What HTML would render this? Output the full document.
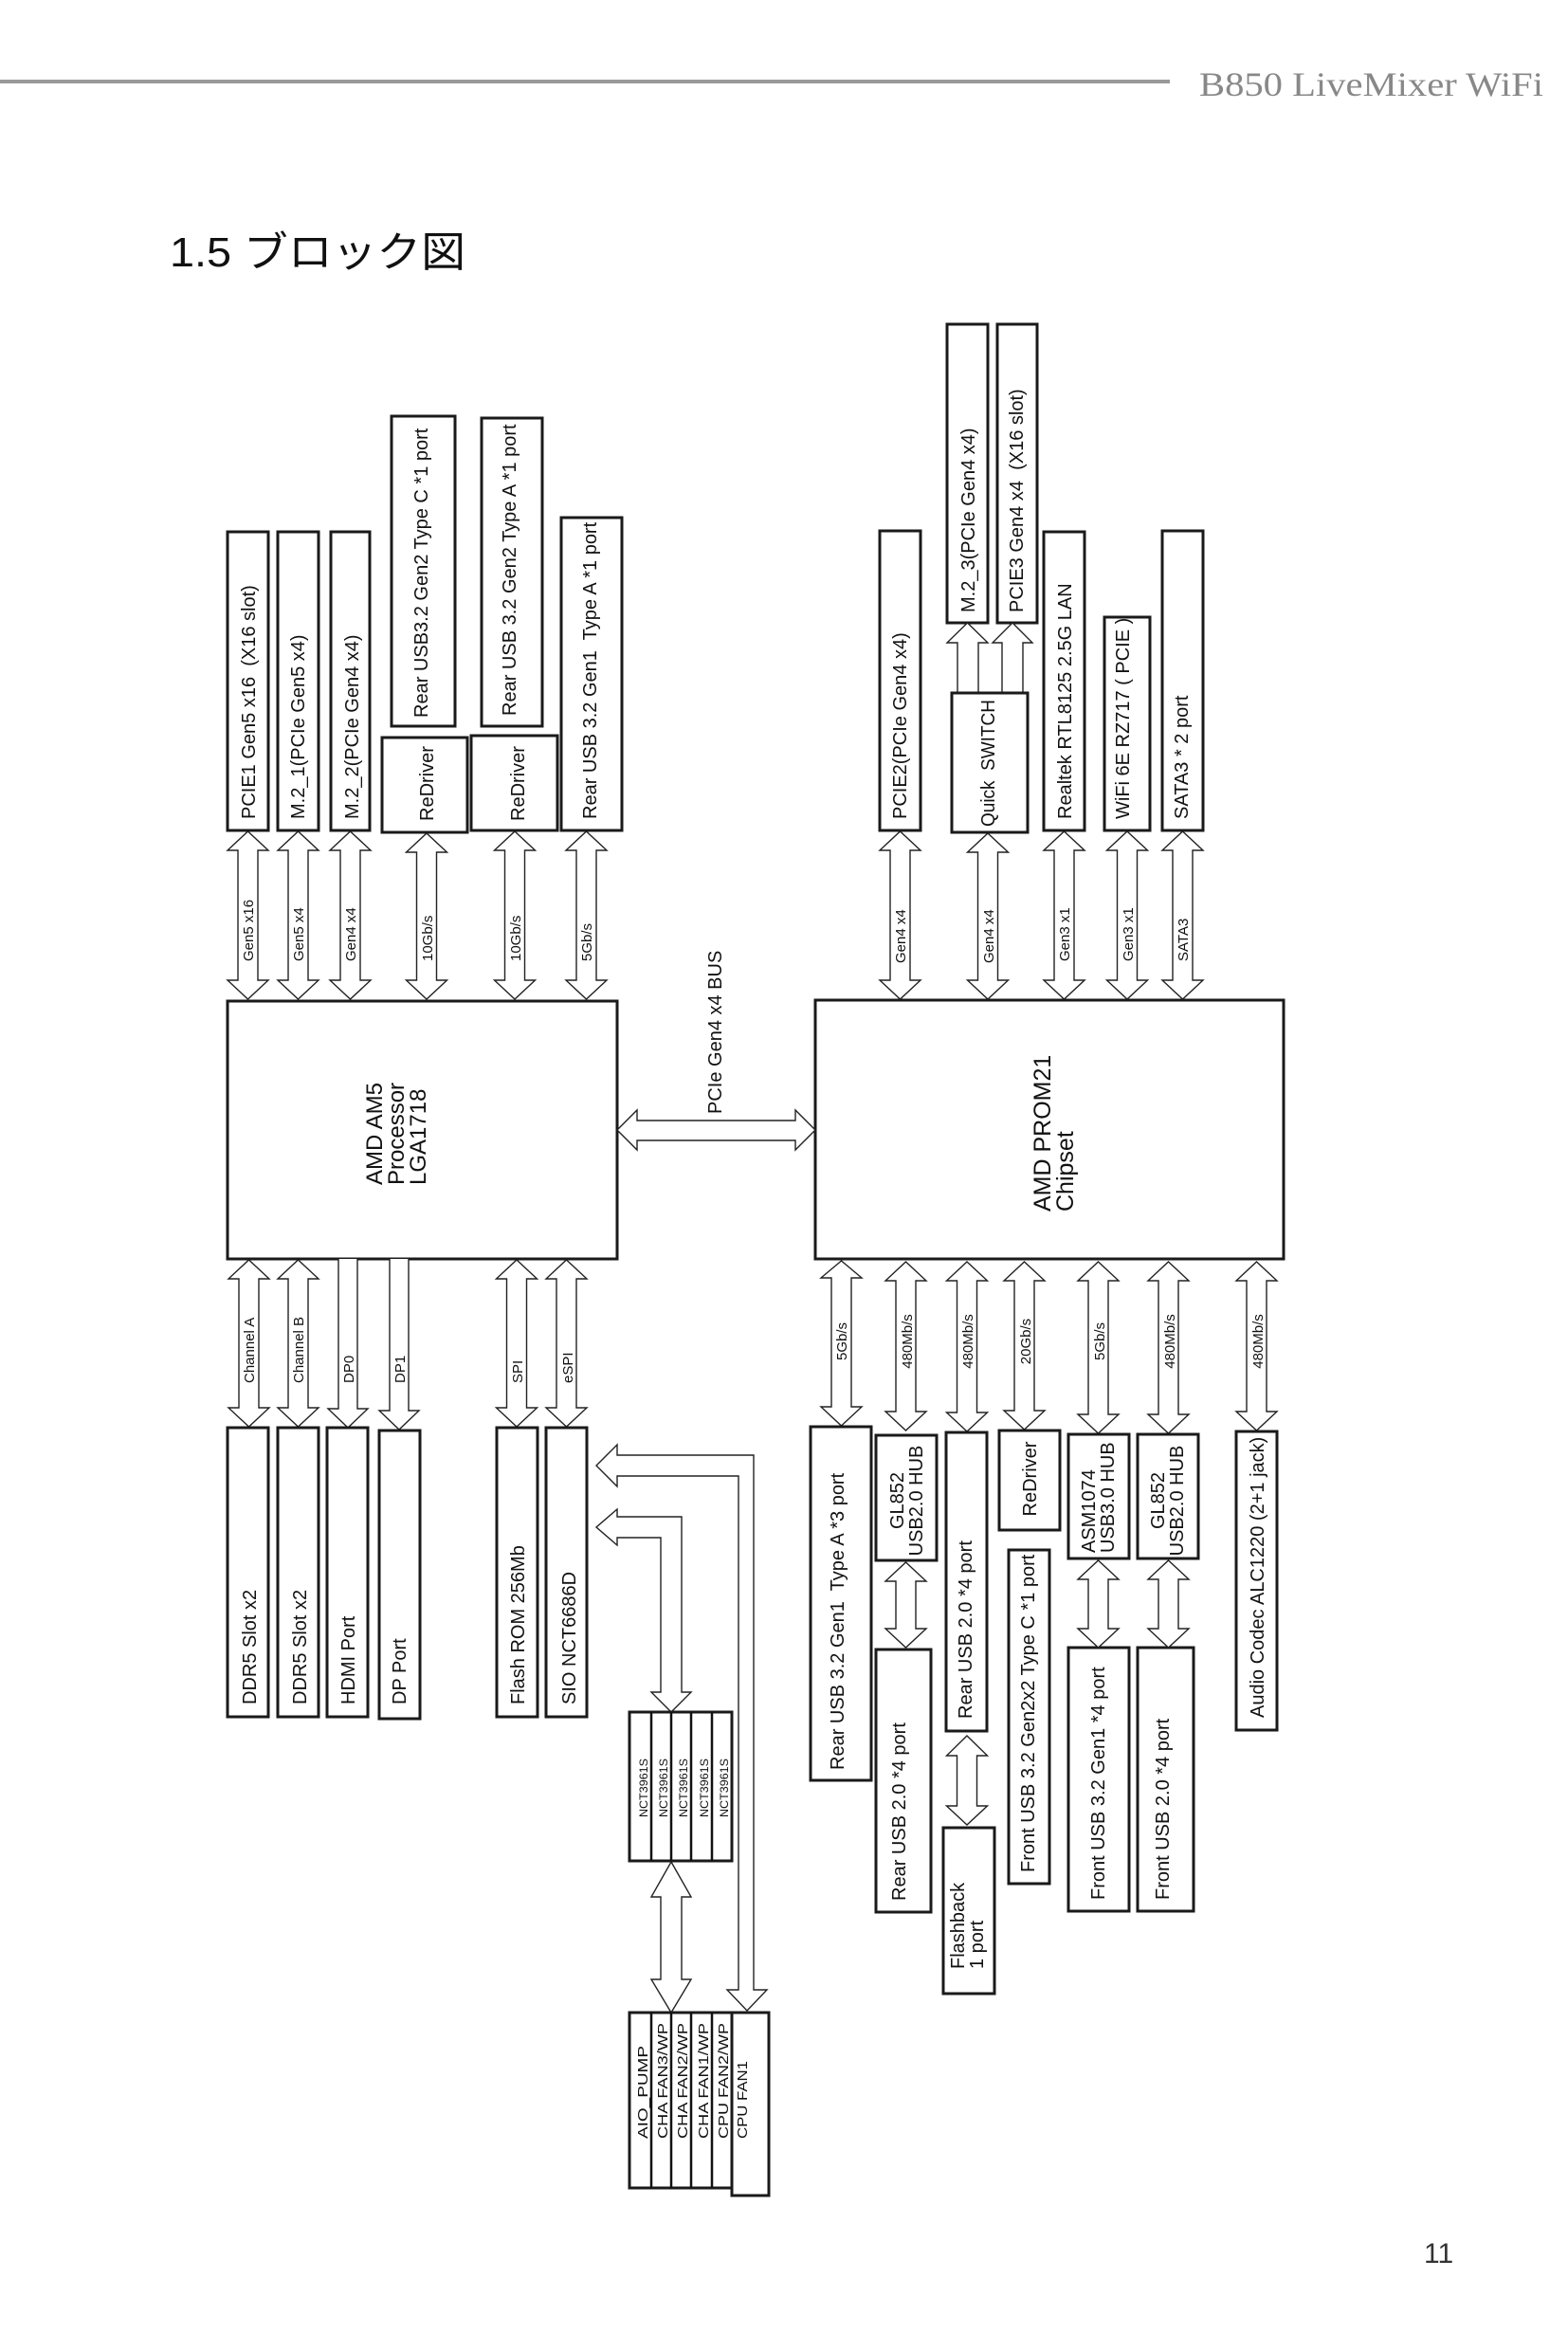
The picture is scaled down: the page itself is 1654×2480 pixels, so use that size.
<!DOCTYPE html>
<html><head><meta charset="utf-8"><style>
html,body{margin:0;padding:0;background:#fff}
svg{display:block}
.b{fill:#fff;stroke:#1a1a1a;stroke-width:3}
.a{fill:#fff;stroke:#222;stroke-width:1.4}
text{font-family:"Liberation Sans",Arial,sans-serif;fill:#111}
.t{font-size:20px}
.l{font-size:15px}
.f{font-size:15px}
.n{font-size:12px}
</style></head><body>
<svg width="1654" height="2480" viewBox="0 0 1654 2480" xmlns="http://www.w3.org/2000/svg">
<!-- header -->
<rect x="0" y="84" width="1234" height="4" fill="#999"/>
<text x="1265" y="101" style="font-family:'Liberation Serif',serif;font-size:36px;fill:#888" textLength="363" lengthAdjust="spacingAndGlyphs">B850 LiveMixer WiFi</text>
<text x="179" y="281" style="font-family:'Liberation Sans','Noto Sans CJK JP',sans-serif;font-size:44px;fill:#111" textLength="312" lengthAdjust="spacingAndGlyphs">1.5 ブロック図</text>
<text x="1502" y="2387" style="font-family:'Liberation Sans',sans-serif;font-size:30px;fill:#333">11</text>

<!-- main chips -->
<rect class="b" x="240" y="1056" width="411" height="272"/>
<rect class="b" x="860" y="1055" width="494" height="273"/>
<text class="t" style="font-size:24px" transform="translate(403,1250) rotate(-90)">AMD AM5</text>
<text class="t" style="font-size:24px" transform="translate(426,1250) rotate(-90)">Processor</text>
<text class="t" style="font-size:24px" transform="translate(449,1250) rotate(-90)">LGA1718</text>
<text class="t" style="font-size:25px" transform="translate(1108,1278) rotate(-90)">AMD PROM21</text>
<text class="t" style="font-size:25px" transform="translate(1132,1278) rotate(-90)">Chipset</text>

<!-- bus -->
<path class="a" d="M651 1192 L672 1171 V1182 H839 V1171 L860 1192 L839 1213 V1203 H672 V1213 Z"/>
<text class="t" transform="translate(761,1175) rotate(-90)">PCIe Gen4 x4 BUS</text>

<!-- top boxes CPU side -->
<rect class="b" x="240" y="561" width="43" height="315"/>
<rect class="b" x="293" y="561" width="43" height="315"/>
<rect class="b" x="349" y="561" width="41" height="315"/>
<rect class="b" x="413" y="439" width="67" height="327"/>
<rect class="b" x="403" y="778" width="90" height="100"/>
<rect class="b" x="508" y="441" width="64" height="325"/>
<rect class="b" x="497" y="776" width="91" height="100"/>
<rect class="b" x="592" y="546" width="64" height="330"/>
<text class="t" transform="translate(269,864) rotate(-90)" xml:space="preserve">PCIE1 Gen5 x16  (X16 slot)</text>
<text class="t" transform="translate(321,864) rotate(-90)">M.2_1(PCIe Gen5 x4)</text>
<text class="t" transform="translate(378,864) rotate(-90)">M.2_2(PCIe Gen4 x4)</text>
<text class="t" transform="translate(451,757) rotate(-90)">Rear USB3.2 Gen2 Type C *1 port</text>
<text class="t" transform="translate(457,866) rotate(-90)">ReDriver</text>
<text class="t" transform="translate(544,755) rotate(-90)">Rear USB 3.2 Gen2 Type A *1 port</text>
<text class="t" transform="translate(553,866) rotate(-90)">ReDriver</text>
<text class="t" transform="translate(629,864) rotate(-90)" xml:space="preserve">Rear USB 3.2 Gen1  Type A *1 port</text>

<!-- top boxes chipset side -->
<rect class="b" x="928" y="560" width="43" height="316"/>
<rect class="b" x="999" y="342" width="43" height="315"/>
<rect class="b" x="1052" y="342" width="42" height="315"/>
<polyline class="a" points="1010,731 1010,678 999,678 1020.5,657 1042,678 1032,678 1032,731"/>
<polyline class="a" points="1057,731 1057,678 1047,678 1068,657 1089,678 1079,678 1079,731"/>
<rect class="b" x="1004" y="731" width="80" height="147"/>
<rect class="b" x="1101" y="561" width="43" height="315"/>
<rect class="b" x="1165" y="651" width="48" height="225"/>
<rect class="b" x="1226" y="560" width="43" height="316"/>
<text class="t" transform="translate(956,864) rotate(-90)">PCIE2(PCIe Gen4 x4)</text>
<text class="t" transform="translate(1028,646) rotate(-90)">M.2_3(PCIe Gen4 x4)</text>
<text class="t" transform="translate(1079,646) rotate(-90)" xml:space="preserve">PCIE3 Gen4 x4  (X16 slot)</text>
<text class="t" transform="translate(1049,872) rotate(-90)" xml:space="preserve" textLength="134" lengthAdjust="spacingAndGlyphs">Quick  SWITCH</text>
<text class="t" transform="translate(1130,864) rotate(-90)">Realtek RTL8125 2.5G LAN</text>
<text class="t" transform="translate(1191,864) rotate(-90)">WiFi 6E RZ717 ( PCIE )</text>
<text class="t" transform="translate(1253,864) rotate(-90)">SATA3 * 2 port</text>

<!-- top arrows -->
<path class="a" d="M261.5 877 l21.5 20 h-11 V1034 h11 l-21.5 20 l-21.5 -20 h11 V897 h-11 z"/>
<path class="a" d="M314.5 877 l21.5 20 h-11 V1034 h11 l-21.5 20 l-21.5 -20 h11 V897 h-11 z"/>
<path class="a" d="M369.5 877 l21.5 20 h-11 V1034 h11 l-21.5 20 l-21.5 -20 h11 V897 h-11 z"/>
<path class="a" d="M450 879 l21.5 20 h-11 V1034 h11 l-21.5 20 l-21.5 -20 h11 V899 h-11 z"/>
<path class="a" d="M543 877 l21.5 20 h-11 V1034 h11 l-21.5 20 l-21.5 -20 h11 V897 h-11 z"/>
<path class="a" d="M618.5 877 l21.5 20 h-11 V1034 h11 l-21.5 20 l-21.5 -20 h11 V897 h-11 z"/>
<path class="a" d="M949.5 877 l21.5 20 h-11 V1034 h11 l-21.5 20 l-21.5 -20 h11 V897 h-11 z"/>
<path class="a" d="M1042 879 l21.5 20 h-11 V1034 h11 l-21.5 20 l-21.5 -20 h11 V899 h-11 z"/>
<path class="a" d="M1122.5 877 l21.5 20 h-11 V1034 h11 l-21.5 20 l-21.5 -20 h11 V897 h-11 z"/>
<path class="a" d="M1189 877 l21.5 20 h-11 V1034 h11 l-21.5 20 l-21.5 -20 h11 V897 h-11 z"/>
<path class="a" d="M1247.5 877 l21.5 20 h-11 V1034 h11 l-21.5 20 l-21.5 -20 h11 V897 h-11 z"/>
<text class="l" transform="translate(267,1014) rotate(-90)">Gen5 x16</text>
<text class="l" transform="translate(320,1014) rotate(-90)">Gen5 x4</text>
<text class="l" transform="translate(375,1014) rotate(-90)">Gen4 x4</text>
<text class="l" transform="translate(456,1014) rotate(-90)">10Gb/s</text>
<text class="l" transform="translate(549,1014) rotate(-90)">10Gb/s</text>
<text class="l" transform="translate(624,1014) rotate(-90)">5Gb/s</text>
<text class="l" transform="translate(955,1016) rotate(-90)">Gen4 x4</text>
<text class="l" transform="translate(1048,1016) rotate(-90)">Gen4 x4</text>
<text class="l" transform="translate(1128,1014) rotate(-90)">Gen3 x1</text>
<text class="l" transform="translate(1195,1014) rotate(-90)">Gen3 x1</text>
<text class="l" transform="translate(1253,1014) rotate(-90)">SATA3</text>

<!-- bottom CPU side -->
<path class="a" d="M262.5 1329 l21.5 20 h-11 V1485 h11 l-21.5 20 l-21.5 -20 h11 V1349 h-11 z"/>
<path class="a" d="M314.5 1329 l21.5 20 h-11 V1485 h11 l-21.5 20 l-21.5 -20 h11 V1349 h-11 z"/>
<path class="a" d="M357 1328 V1486 h-11 l21 20 l21 -20 h-11 V1328"/>
<path class="a" d="M411 1328 V1488 h-11 l21 20 l21 -20 h-11 V1328"/>
<path class="a" d="M545 1329 l21.5 20 h-11 V1485 h11 l-21.5 20 l-21.5 -20 h11 V1349 h-11 z"/>
<path class="a" d="M597.5 1329 l21.5 20 h-11 V1485 h11 l-21.5 20 l-21.5 -20 h11 V1349 h-11 z"/>
<text class="l" transform="translate(268,1459) rotate(-90)">Channel A</text>
<text class="l" transform="translate(320,1459) rotate(-90)">Channel B</text>
<text class="l" transform="translate(373,1459) rotate(-90)">DP0</text>
<text class="l" transform="translate(427,1459) rotate(-90)">DP1</text>
<text class="l" transform="translate(551,1459) rotate(-90)">SPI</text>
<text class="l" transform="translate(604,1459) rotate(-90)">eSPI</text>
<rect class="b" x="240" y="1506" width="43" height="305"/>
<rect class="b" x="293" y="1506" width="43" height="305"/>
<rect class="b" x="345" y="1506" width="43" height="305"/>
<rect class="b" x="400" y="1509" width="43" height="304"/>
<rect class="b" x="524" y="1506" width="43" height="305"/>
<rect class="b" x="576" y="1506" width="43" height="305"/>
<text class="t" transform="translate(270,1798) rotate(-90)">DDR5 Slot x2</text>
<text class="t" transform="translate(323,1798) rotate(-90)">DDR5 Slot x2</text>
<text class="t" transform="translate(374,1798) rotate(-90)">HDMI Port</text>
<text class="t" transform="translate(428,1798) rotate(-90)">DP Port</text>
<text class="t" transform="translate(553,1798) rotate(-90)">Flash ROM 256Mb</text>
<text class="t" transform="translate(607,1798) rotate(-90)">SIO NCT6686D</text>

<!-- fan section -->
<path class="a" d="M795 2099 H809 L788 2121 L767 2099 H779 V1557 H651 V1568 L629 1546 L651 1524 V1535 H795 Z"/>
<path class="a" d="M719 1785 H729 L708 1806 L687 1785 H697 V1622 H651 V1630 L629 1611 L651 1592 V1600 H719 Z"/>
<rect class="b" x="664" y="1806" width="108" height="157"/>
<line x1="687" y1="1806" x2="687" y2="1963" stroke="#111" stroke-width="2.5"/>
<line x1="708" y1="1806" x2="708" y2="1963" stroke="#111" stroke-width="2.5"/>
<line x1="729" y1="1806" x2="729" y2="1963" stroke="#111" stroke-width="2.5"/>
<line x1="751" y1="1806" x2="751" y2="1963" stroke="#111" stroke-width="2.5"/>
<text class="n" transform="translate(683,1917) rotate(-90)" textLength="62" lengthAdjust="spacingAndGlyphs">NCT3961S</text>
<text class="n" transform="translate(704,1917) rotate(-90)" textLength="62" lengthAdjust="spacingAndGlyphs">NCT3961S</text>
<text class="n" transform="translate(725,1917) rotate(-90)" textLength="62" lengthAdjust="spacingAndGlyphs">NCT3961S</text>
<text class="n" transform="translate(747,1917) rotate(-90)" textLength="62" lengthAdjust="spacingAndGlyphs">NCT3961S</text>
<text class="n" transform="translate(768,1917) rotate(-90)" textLength="62" lengthAdjust="spacingAndGlyphs">NCT3961S</text>
<path class="a" d="M708 1964 l21 37 h-10 V2088 h10 l-21 35 l-21 -35 h10 V2001 h-10 z"/>
<rect class="b" x="664" y="2123" width="108" height="185"/>
<rect class="b" x="772" y="2123" width="39" height="193"/>
<line x1="687" y1="2123" x2="687" y2="2308" stroke="#111" stroke-width="2.5"/>
<line x1="708" y1="2123" x2="708" y2="2308" stroke="#111" stroke-width="2.5"/>
<line x1="729" y1="2123" x2="729" y2="2308" stroke="#111" stroke-width="2.5"/>
<line x1="751" y1="2123" x2="751" y2="2308" stroke="#111" stroke-width="2.5"/>
<text class="f" transform="translate(683,2256) rotate(-90)" textLength="98" lengthAdjust="spacingAndGlyphs">AIO_PUMP</text>
<text class="f" transform="translate(704,2256) rotate(-90)" textLength="122" lengthAdjust="spacingAndGlyphs">CHA FAN3/WP</text>
<text class="f" transform="translate(725,2256) rotate(-90)" textLength="122" lengthAdjust="spacingAndGlyphs">CHA FAN2/WP</text>
<text class="f" transform="translate(747,2256) rotate(-90)" textLength="122" lengthAdjust="spacingAndGlyphs">CHA FAN1/WP</text>
<text class="f" transform="translate(768,2256) rotate(-90)" textLength="122" lengthAdjust="spacingAndGlyphs">CPU FAN2/WP</text>
<text class="f" transform="translate(788,2256) rotate(-90)" textLength="82" lengthAdjust="spacingAndGlyphs">CPU FAN1</text>

<!-- chipset bottom arrows -->
<path class="a" d="M887.5 1330 l21.5 18 h-11 V1484 h11 l-21.5 20 l-21.5 -20 h11 V1348 h-11 z"/>
<path class="a" d="M955.5 1331 l21.5 20 h-11 V1489 h11 l-21.5 20 l-21.5 -20 h11 V1351 h-11 z"/>
<path class="a" d="M1020 1331 l21.5 20 h-11 V1490 h11 l-21.5 20 l-21.5 -20 h11 V1351 h-11 z"/>
<path class="a" d="M1080.5 1331 l21.5 20 h-11 V1488 h11 l-21.5 20 l-21.5 -20 h11 V1351 h-11 z"/>
<path class="a" d="M1158.5 1331 l21.5 20 h-11 V1492 h11 l-21.5 20 l-21.5 -20 h11 V1351 h-11 z"/>
<path class="a" d="M1232.5 1331 l21.5 20 h-11 V1492 h11 l-21.5 20 l-21.5 -20 h11 V1351 h-11 z"/>
<path class="a" d="M1325.5 1331 l21.5 20 h-11 V1489 h11 l-21.5 20 l-21.5 -20 h11 V1351 h-11 z"/>
<text class="l" text-anchor="middle" transform="translate(893,1415) rotate(-90)">5Gb/s</text>
<text class="l" text-anchor="middle" transform="translate(962,1415) rotate(-90)">480Mb/s</text>
<text class="l" text-anchor="middle" transform="translate(1026,1415) rotate(-90)">480Mb/s</text>
<text class="l" text-anchor="middle" transform="translate(1087,1415) rotate(-90)">20Gb/s</text>
<text class="l" text-anchor="middle" transform="translate(1165,1415) rotate(-90)">5Gb/s</text>
<text class="l" text-anchor="middle" transform="translate(1239,1415) rotate(-90)">480Mb/s</text>
<text class="l" text-anchor="middle" transform="translate(1332,1415) rotate(-90)">480Mb/s</text>

<!-- chipset bottom boxes -->
<rect class="b" x="855" y="1505" width="64" height="373"/>
<rect class="b" x="924" y="1514" width="64" height="132"/>
<rect class="b" x="924" y="1740" width="58" height="277"/>
<rect class="b" x="998" y="1511" width="43" height="315"/>
<rect class="b" x="995" y="1928" width="54" height="175"/>
<rect class="b" x="1054" y="1509" width="64" height="105"/>
<rect class="b" x="1064" y="1635" width="43" height="352"/>
<rect class="b" x="1127" y="1513" width="64" height="131"/>
<rect class="b" x="1127" y="1738" width="64" height="278"/>
<rect class="b" x="1200" y="1513" width="64" height="131"/>
<rect class="b" x="1200" y="1738" width="59" height="278"/>
<rect class="b" x="1304" y="1510" width="43" height="315"/>
<path class="a" d="M955.5 1648 l21.5 20 h-11 V1718 h11 l-21.5 20 l-21.5 -20 h11 V1668 h-11 z"/>
<path class="a" d="M1158.5 1646 l21.5 20 h-11 V1718 h11 l-21.5 20 l-21.5 -20 h11 V1666 h-11 z"/>
<path class="a" d="M1232.5 1646 l21.5 20 h-11 V1718 h11 l-21.5 20 l-21.5 -20 h11 V1666 h-11 z"/>
<path class="a" d="M1020 1831 l21.5 21 h-11 V1905 h11 l-21.5 20 l-21.5 -20 h11 V1852 h-11 z"/>
<text class="t" transform="translate(890,1867) rotate(-90)" xml:space="preserve">Rear USB 3.2 Gen1  Type A *3 port</text>
<text class="t" text-anchor="middle" transform="translate(953,1583) rotate(-90)">GL852</text>
<text class="t" text-anchor="middle" transform="translate(973,1583) rotate(-90)">USB2.0 HUB</text>
<text class="t" transform="translate(955,2005) rotate(-90)">Rear USB 2.0 *4 port</text>
<text class="t" transform="translate(1025,1813) rotate(-90)">Rear USB 2.0 *4 port</text>
<text class="t" transform="translate(1017,2077) rotate(-90)">Flashback</text>
<text class="t" transform="translate(1037,2077) rotate(-90)">1 port</text>
<text class="t" text-anchor="middle" transform="translate(1093,1560) rotate(-90)">ReDriver</text>
<text class="t" transform="translate(1091,1975) rotate(-90)">Front USB 3.2 Gen2x2 Type C *1 port</text>
<text class="t" transform="translate(1155,1638) rotate(-90)">ASM1074</text>
<text class="t" transform="translate(1175,1638) rotate(-90)">USB3.0 HUB</text>
<text class="t" transform="translate(1165,2004) rotate(-90)">Front USB 3.2 Gen1 *4 port</text>
<text class="t" text-anchor="middle" transform="translate(1228,1583) rotate(-90)">GL852</text>
<text class="t" text-anchor="middle" transform="translate(1248,1583) rotate(-90)">USB2.0 HUB</text>
<text class="t" transform="translate(1233,2004) rotate(-90)">Front USB 2.0 *4 port</text>
<text class="t" transform="translate(1333,1812) rotate(-90)">Audio Codec ALC1220 (2+1 jack)</text>
</svg>
</body></html>
